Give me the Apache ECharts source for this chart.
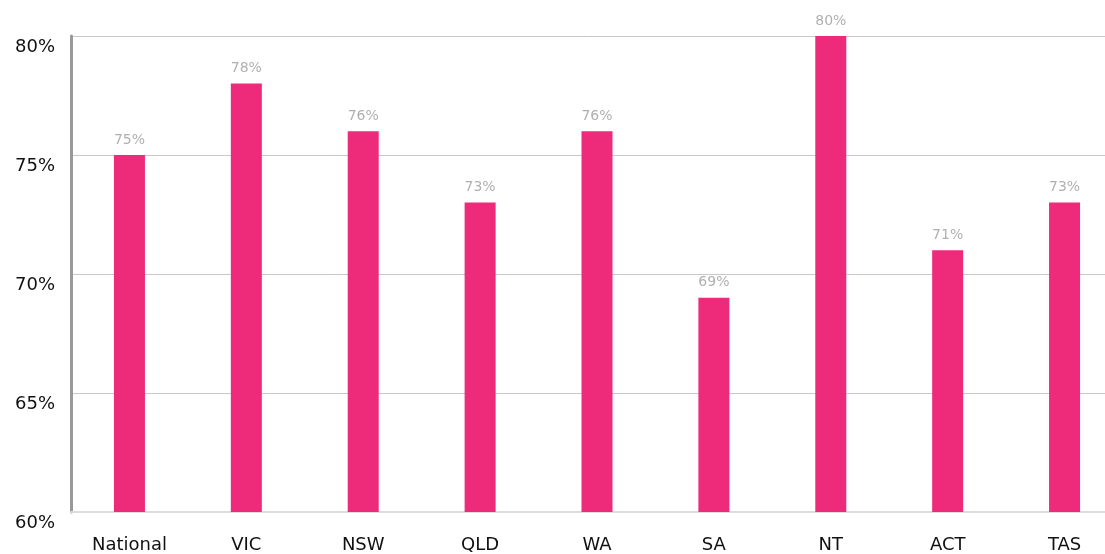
<!DOCTYPE html>
<html>
<head>
<meta charset="utf-8">
<script src="https://cdn.jsdelivr.net/npm/echarts@6/dist/echarts.min.js"></script>
<style>
  html, body { margin: 0; padding: 0; background: #fff; }
  #chart { width: 1105px; height: 554px; }
</style>
</head>
<body>
<div id="chart"></div>
<script>
// values
const states = ['National', 'VIC', 'NSW', 'QLD', 'WA', 'SA', 'NT', 'ACT', 'TAS'];
const shares = [75, 78, 76, 73, 76, 69, 80, 71, 73];
const yTicks = [60, 65, 70, 75, 80];

const chart = echarts.init(document.getElementById('chart'));
chart.setOption({
  animation: false,
  textStyle: { fontFamily: '"DejaVu Sans", sans-serif' },
  // plot runs a little past the right edge, like the original
  grid: {
    left: 71, width: 1052, top: 36, height: 476,
    containLabel: false, outerBoundsMode: 'none'
  },
  xAxis: {
    type: 'category',
    data: states,
    axisTick: { show: false },
    axisLine: { lineStyle: { color: '#dcdcdc', width: 2 } },
    axisLabel: { color: '#111', fontSize: 18, margin: 24 }
  },
  yAxis: {
    type: 'value',
    min: yTicks[0],
    max: yTicks[yTicks.length - 1],
    interval: 5,
    axisLine: { show: true, lineStyle: { color: '#999', width: 3 } },
    axisTick: { show: false },
    splitLine: { lineStyle: { color: '#c8c8c8', width: 1 } },
    axisLabel: {
      color: '#111', fontSize: 18, margin: 16, verticalAlign: 'top',
      padding: [2, 0, 0, 0],
      formatter: v => v + '%'
    }
  },
  series: [{
    type: 'bar',
    data: shares,
    barWidth: 31,
    itemStyle: { color: '#ee2a7b' },
    label: {
      show: true, position: 'top', distance: 8,
      color: '#b0b0b0', fontSize: 14, formatter: p => p.value + '%'
    }
  }]
});
</script>
</body>
</html>
